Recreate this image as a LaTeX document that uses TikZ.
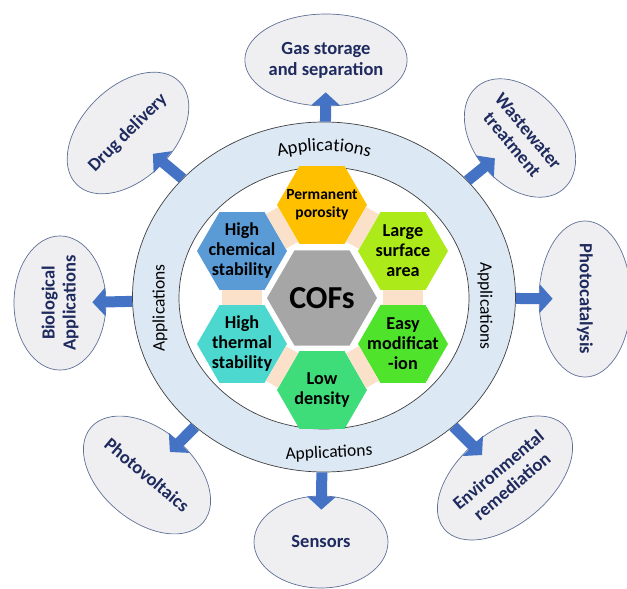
\documentclass[tikz,border=0pt]{standalone}
\usepackage{fontspec}
\setmainfont{Carlito}
\usepackage{xcolor}
\usepackage{tikz}
\usetikzlibrary{arrows.meta,
                calc,
                decorations.text,
                shapes.geometric}

\definecolor{ringblue}{HTML}{DCE8F4}
\definecolor{bubblegray}{HTML}{EFEFF1}
\definecolor{bubbleline}{HTML}{5E6F96}
\definecolor{appnavy}{HTML}{1F2B5E}
\definecolor{arrowblue}{HTML}{4472C4}
\definecolor{bandpeach}{HTML}{FBE1CA}
\definecolor{hexorange}{HTML}{FFC000}
\definecolor{hexlime}{HTML}{ADEA1A}
\definecolor{hexgreen}{HTML}{4FE32C}
\definecolor{hexmint}{HTML}{3EDD7A}
\definecolor{hexblue}{HTML}{5B9BD5}
\definecolor{hexteal}{HTML}{4DD8CF}
\definecolor{hexgray}{HTML}{A6A6A6}

\tikzset{
  bubble/.style={ellipse, draw=bubbleline, line width=0.7pt, fill=bubblegray,
                 minimum width=134pt, minimum height=92pt, inner sep=0pt,
                 align=center, text=appnavy, font=\fontsize{18.5}{21}\selectfont\bfseries},
  hexcell/.style={regular polygon, regular polygon sides=6, minimum size=90pt, inner sep=0pt},
  hextext/.style={align=center, font=\fontsize{18.2}{20}\selectfont\bfseries},
  ringtext/.style={font=\fontsize{17.5}{20}\selectfont},
  band/.style={draw=bandpeach, line width=40pt},
  apparrow/.style={draw=arrowblue, line width=11pt,
                   -{Triangle[length=13pt,width=28pt]}, shorten >=-14pt}
}

\begin{document}
\begin{tikzpicture}[x=1pt,y=1pt]
\useasboundingbox (-324,-292) rectangle (303,297);

\node[ellipse, draw=black!75, line width=0.7pt, fill=ringblue,
      minimum width=383pt, minimum height=350pt] (ring) at (0,0) {};
\node[ellipse, draw=black!75, line width=0.7pt, fill=white,
      minimum width=290pt, minimum height=262pt] (core) at (0,-1) {};

\path[decorate, decoration={text along path, text align=center,
      text={|\fontsize{18.5}{20}\selectfont|Applications}}]
  ({162*cos(125)},{146*sin(125)}) arc[start angle=125, end angle=55, x radius=162, y radius=146];
\node[ringtext, rotate=90] (lefttag) at (-164,-11) {Applications};
\node[ringtext, rotate=-90] (righttag) at (161,-9) {Applications};
\node[ringtext, rotate=3] (bottomtag) at (5,-156) {Applications};

\node[hexcell, fill=hexgray, minimum size=110pt] (cofs) at (-2,-1) {};
\node[font=\fontsize{32}{32}\selectfont\bfseries] at (cofs) {COFs};
\node[hexcell, fill=hexorange] (perm) at (-2,92) {};
\node[hextext, font=\fontsize{15.5}{18}\selectfont\bfseries] at (perm) {Permanent\\porosity};
\node[hexcell, fill=hexlime] (surf) at (79,46) {};
\node[hextext] at (surf) {Large\\surface\\area};
\node[hexcell, fill=hexgreen] (easy) at (79,-47) {};
\node[hextext] at (easy) {Easy\\modificat\\-ion};
\node[hexcell, fill=hexmint] (lowd) at (-2,-93) {};
\node[hextext] at (lowd) {Low\\density};
\node[hexcell, fill=hexteal] (therm) at (-82,-47) {};
\node[hextext] at (therm) {High\\thermal\\stability};
\node[hexcell, fill=hexblue] (chem) at (-82,46) {};
\node[hextext] at (chem) {High\\chemical\\stability};

\foreach \a/\b in {perm/surf, surf/easy, easy/lowd, lowd/therm, therm/chem, chem/perm}
  \draw[band] (\a) -- (\b);

\node[bubble] (gas) at (2,237) {Gas storage\\and separation};
\node[bubble, rotate=-50] (waste) at (196,159) {Wastewater\\treatment};
\node[bubble, rotate=-90] (photocat) at (261,-2) {Photocatalysis};
\node[bubble, rotate=40] (envir) at (181,-181) {Environmental\\remediation};
\node[bubble] (sensor) at (-3,-245) {Sensors};
\node[bubble, rotate=-40] (pvolt) at (-177,-178) {Photovoltaics};
\node[bubble, rotate=90] (bio) at (-264,-6) {Biological\\Applications};
\node[bubble, rotate=45] (drug) at (-196,164) {Drug delivery};

\foreach \b in {gas, waste, photocat, envir, sensor, pvolt, bio, drug}
  \draw[apparrow] (ring) -- (\b);

\end{tikzpicture}
\end{document}
